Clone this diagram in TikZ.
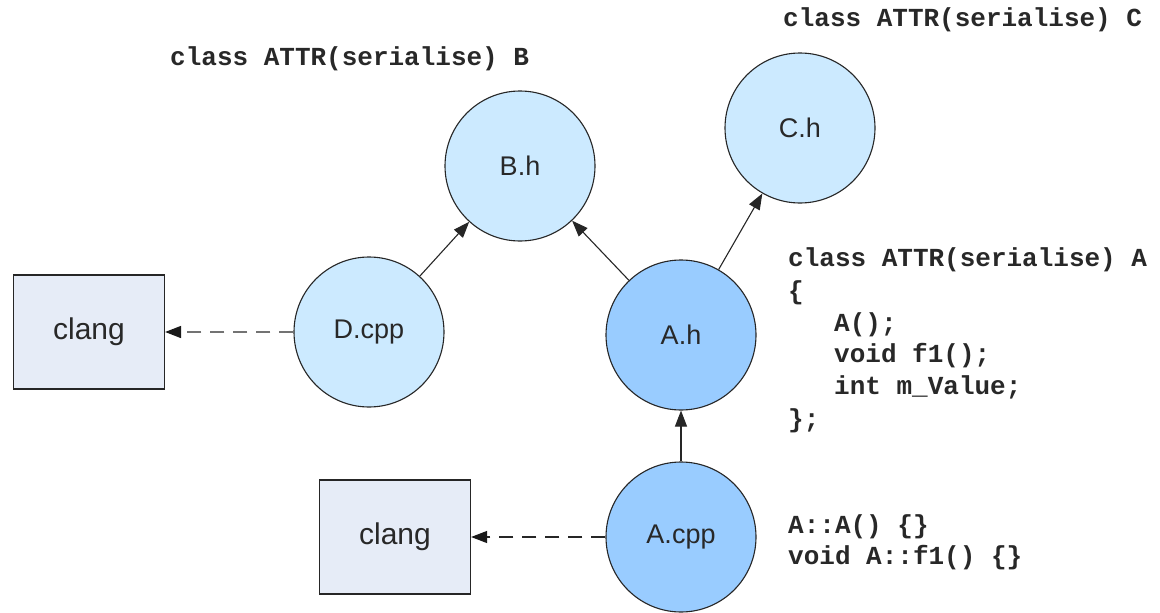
\documentclass[tikz,border=0pt]{standalone}
\usepackage{fontspec}
\setmainfont{Liberation Sans}
\newfontfamily\codefont{Liberation Mono}
\usetikzlibrary{arrows.meta}

\definecolor{hdrfill}{RGB}{204,234,255}
\definecolor{srcfill}{RGB}{153,204,255}
\definecolor{toolfill}{RGB}{230,236,247}
\definecolor{labelink}{RGB}{40,40,40}

\tikzset{
  file/.style={circle, draw=black!85, line width=1.1pt, minimum size=150pt,
               inner sep=0pt, font=\fontsize{27}{30}\selectfont, text=labelink},
  header/.style={file, fill=hdrfill},
  source/.style={file, fill=srcfill},
  tool/.style={rectangle, draw=black!85, line width=1.2pt, fill=toolfill,
               minimum width=151pt, minimum height=114pt, inner sep=0pt,
               font=\fontsize{30}{33}\selectfont, text=labelink},
  dep/.style={line width=1.1pt, draw=black!85,
              -{Triangle[length=16pt,width=12pt]}},
  feed/.style={line width=1.6pt, dash pattern=on 14pt off 9pt,
               -{Triangle[length=16pt,width=12pt,color=black!90]}},
  code/.style={anchor=base west, inner sep=0pt,
               font=\codefont\bfseries\fontsize{26}{30}\selectfont, text=labelink},
}

\begin{document}
\begin{tikzpicture}[x=1pt, y=-1pt]
  \useasboundingbox (0,0) rectangle (1160,613);

  % files
  \node[header] (B)  at (520,166) {B.h};
  \node[header] (C)  at (800,128) {C.h};
  \node[header] (D)  at (369,332) {D.cpp};
  \node[source] (Ah) at (681,335) {A.h};
  \node[source] (Ac) at (681,537) {A.cpp};

  % compiler invocations
  \node[tool] (clangD) at (89,332)  {clang};
  \node[tool] (clangA) at (395,537) {clang};

  % include dependencies
  \draw[dep] (D)  -- (B);
  \draw[dep] (Ah) -- (B);
  \draw[dep] (Ah) -- (C);
  \draw[dep] (Ac) -- (Ah);

  % translation units handed to the compiler
  \draw[feed, draw=black!55] (D.west)  -- (clangD.east);
  \draw[feed, draw=black!85, line width=1.2pt] (Ac.west) -- (clangA.east);

  % class declarations
  \node[code] (declB) at (170,65) {class ATTR(serialise) B};
  \node[code] (declC) at (783,27) {class ATTR(serialise) C};

  \node[code] (declA)  at (788,266) {class ATTR(serialise) A};
  \node[code] (openA)  at (788,299) {\{};
  \node[code] (ctorA)  at (834,331) {A();};
  \node[code] (fnA)    at (834,362) {void f1();};
  \node[code] (memA)   at (834,394) {int m\_Value;};
  \node[code] (closeA) at (788,427) {\};};

  % definitions in A.cpp
  \node[code] (defctor) at (788,533) {A::A() \{\}};
  \node[code] (deffn)   at (788,564) {void A::f1() \{\}};
\end{tikzpicture}
\end{document}
